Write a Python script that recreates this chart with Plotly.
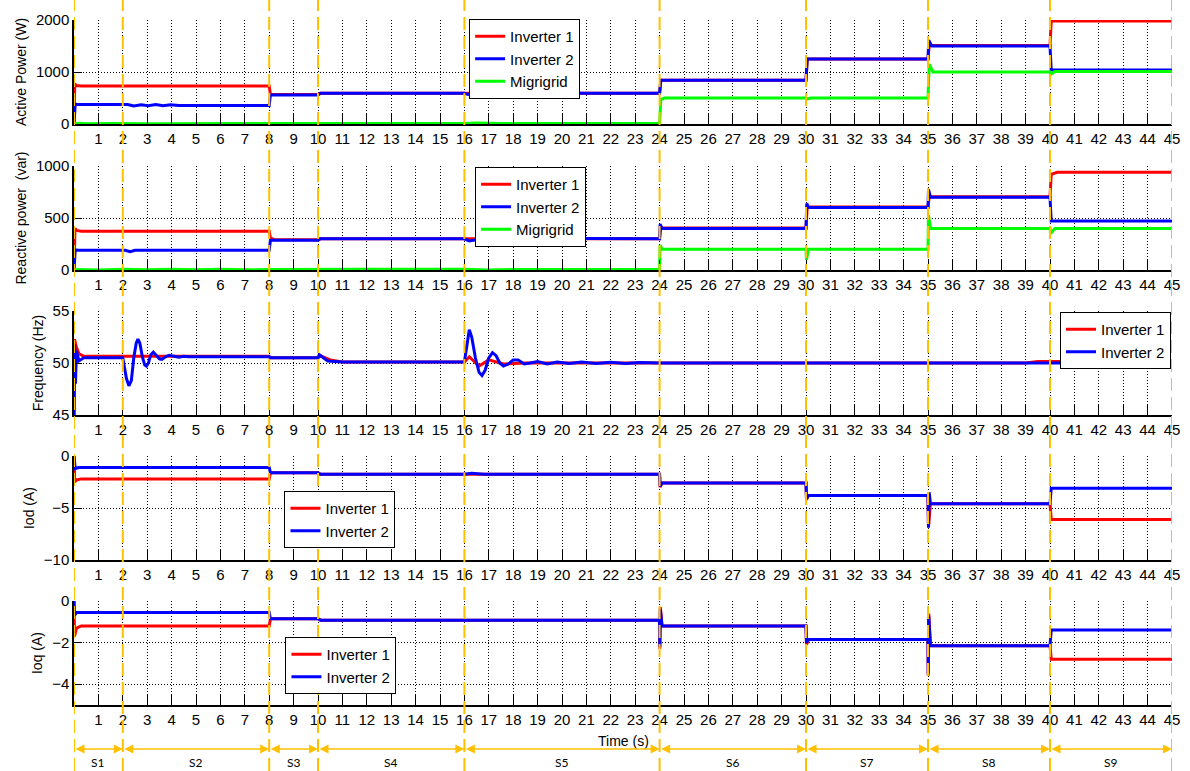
import plotly.graph_objects as go

# ---------------- data ----------------
seg_bounds = [0, 2, 8, 10, 16, 24, 30, 35, 40, 45]
seg_labels = ["S1", "S2", "S3", "S4", "S5", "S6", "S7", "S8", "S9"]
x_ticks = list(range(1, 46))

# Active power (W)
t_p1 = [0, 0.03, 0.08, 0.3, 8.0, 8.05, 10.0, 10.1, 24.0, 24.05, 30.0, 30.05, 35.0, 35.05, 40.0, 40.05, 45]
p_inv1 = [0, 780, 740, 730, 730, 565, 565, 590, 590, 840, 840, 1250, 1250, 1510, 1510, 1980, 1980]
t_p2 = [0, 0.05, 0.15, 2.2, 2.45, 2.75, 3.05, 3.35, 3.65, 3.95, 4.3, 8.0, 8.05, 10.0, 10.1, 16.0, 16.15,
        16.5, 16.9, 17.3, 24.0, 24.05, 30.0, 30.05, 35.0, 35.03, 35.15, 40.0, 40.05, 45]
p_inv2 = [0, 380, 375, 375, 345, 370, 350, 375, 350, 370, 355, 355, 560, 560, 590, 590, 570,
          600, 610, 590, 590, 840, 840, 1250, 1250, 1610, 1500, 1500, 1040, 1040]
t_pm = [0, 0.2, 0.5, 1.5, 3, 4.5, 6, 7.5, 8, 8.05, 16, 16.5, 17.5, 24, 24.05, 24.2, 30, 30.05, 30.2,
        35, 35.05, 35.2, 40, 40.05, 40.2, 45]
p_mg = [0, 15, 5, 12, 5, 12, 5, 12, 8, 10, 10, 18, 8, 8, 470, 500, 500, 480, 500,
        500, 1150, 1000, 1000, 960, 1010, 1010]

# Reactive power (var)
t_q1 = [0, 0.04, 0.1, 0.3, 8.0, 8.05, 8.2, 10.0, 10.1, 24.0, 24.05, 30.0, 30.05, 35.0, 35.05, 40.0, 40.05, 40.3, 45]
q_inv1 = [0, 400, 380, 372, 372, 310, 290, 290, 300, 300, 405, 405, 605, 605, 705, 705, 920, 940, 940]
t_q2 = [0, 0.05, 0.15, 2.1, 2.3, 2.5, 8.0, 8.05, 10.0, 10.1, 16.0, 16.2, 16.6, 17.2, 24.0, 24.02, 24.1,
        30.0, 30.03, 30.1, 35.0, 35.02, 35.1, 40.0, 40.05, 45]
q_inv2 = [0, 195, 190, 190, 175, 190, 190, 285, 285, 300, 300, 280, 295, 305, 300, 440, 400,
          400, 640, 600, 600, 775, 700, 700, 470, 470]
t_qm = [0, 0.2, 1, 2, 3, 4, 5, 6, 7, 8, 8.05, 12, 16, 17, 18, 24, 24.02, 24.1, 30, 30.02, 30.1,
        35, 35.02, 35.1, 40, 40.03, 40.2, 45]
q_mg = [0, 5, 0, 8, 2, 8, 2, 8, 2, 5, 5, 8, 8, 0, 5, 5, 240, 200, 200, 100, 200,
        200, 530, 400, 400, 350, 400, 400]

# Frequency (Hz)
t_f1 = [0, 0.02, 0.1, 0.2, 0.4, 2.0, 4.5, 8.0, 8.05, 10.0, 10.1, 10.5, 11.0,
        16.0, 16.2, 16.6, 17.0, 17.6, 18.5, 39.0, 39.5, 45]
f_inv1 = [50, 52.3, 51.5, 50.9, 50.65, 50.65, 50.65, 50.65, 50.5, 50.5, 50.7, 50.3, 50.1,
          50.1, 50.6, 49.7, 50.3, 49.9, 50.0, 50.0, 50.15, 50.15]
t_f2 = [0, 0.01, 0.03, 0.06, 0.1, 0.2, 0.4, 2.0, 2.05, 2.15, 2.25, 2.35, 2.45, 2.55, 2.62, 2.7, 2.8,
        2.9, 2.97, 3.05, 3.15, 3.25, 3.35, 3.5, 3.6, 3.75, 3.9, 4.05, 4.3, 4.5, 4.7, 8.0, 8.05,
        10.0, 10.05, 10.4, 11.0, 16.0, 16.08, 16.2, 16.3, 16.45, 16.6, 16.72, 16.85, 17.0, 17.15,
        17.3, 17.45, 17.6, 17.8, 18.0, 18.2, 18.45, 18.7, 19.0, 19.4, 19.8, 20.3, 20.8, 21.4,
        22.0, 22.6, 23.2, 24, 45]
f_inv2 = [50, 45, 51.8, 48, 51.2, 50.2, 50.5, 50.5, 49.8, 48.5, 47.8, 48.3, 50.5, 51.9, 52.3, 51.9, 50.6,
          49.8, 49.7, 50.0, 50.8, 51.05, 50.8, 50.4, 50.35, 50.6, 50.75, 50.7, 50.55, 50.65, 50.6, 50.6, 50.5,
          50.5, 50.8, 50.2, 50.1, 50.1, 51.5, 53.2, 52.5, 50.5, 49.1, 48.8, 49.3, 50.5, 51.0,
          50.7, 50.0, 49.7, 49.9, 50.3, 50.3, 49.9, 50.0, 50.15, 49.9, 50.1, 49.95, 50.1, 49.95,
          50.08, 49.95, 50.05, 50.0, 50.0]

# Id (A)
t_d1 = [0, 0.03, 0.1, 0.3, 8.0, 8.05, 10.0, 10.1, 24.0, 24.02, 24.1, 30.0, 30.02, 30.1, 35.0, 35.02, 35.1, 40.0, 40.05, 45]
id_inv1 = [0, -2.5, -2.3, -2.2, -2.2, -1.6, -1.6, -1.75, -1.75, -3.0, -2.6, -2.6, -4.2, -3.8, -3.8, -6.8, -4.6, -4.6, -6.1, -6.1]
t_d2 = [0, 0.05, 0.2, 8.0, 8.05, 10.0, 10.1, 16.0, 16.3, 16.8, 24.0, 24.02, 24.1, 30.0, 30.02, 30.1,
        35.0, 35.02, 35.05, 35.1, 40.0, 40.05, 45]
id_inv2 = [0, -1.2, -1.1, -1.1, -1.6, -1.6, -1.75, -1.75, -1.65, -1.75, -1.75, -2.9, -2.6, -2.6, -4.1, -3.8,
           -3.8, -6.9, -3.5, -4.6, -4.6, -3.1, -3.1]

# Iq (A)
t_iq1 = [0, 0.02, 0.1, 0.3, 8.0, 8.05, 10.0, 10.1, 24.0, 24.01, 24.03, 24.1, 30.0, 30.02, 30.1,
         35.0, 35.01, 35.03, 35.1, 40.0, 40.05, 45]
iq_inv1 = [0, -1.7, -1.3, -1.2, -1.2, -0.85, -0.85, -0.92, -0.92, -2.3, -0.3, -1.2, -1.2, -2.1, -1.85,
           -1.85, -3.6, -0.6, -2.15, -2.15, -2.8, -2.8]
t_iq2 = [0, 0.02, 0.1, 8.0, 8.05, 10.0, 10.1, 24.0, 24.01, 24.03, 24.1, 30.0, 30.02, 30.1,
         35.0, 35.01, 35.03, 35.1, 40.0, 40.05, 45]
iq_inv2 = [0, -0.7, -0.55, -0.55, -0.85, -0.85, -0.92, -0.92, -2.2, -0.4, -1.2, -1.2, -2.0, -1.85,
           -1.85, -3.5, -0.7, -2.15, -2.15, -1.4, -1.4]

# ---------------- figure ----------------
RED, BLUE, GREEN = "#FF0000", "#0000FF", "#00FF00"
ORANGE = "#FFC000"
FONT = "Liberation Sans, Arial, sans-serif"

W, H = 1190, 771
ML, MR, MT, MB = 74, 10, 20, 66
PH = H - MT - MB  # plot area height
PW = W - ML - MR

def ydom(top_px, bot_px):
    return [(H - MB - bot_px) / PH, (H - MB - top_px) / PH]

panel_px = [(20, 124), (166, 270), (311, 415), (456, 560), (601, 705)]
y_titles = ["Active Power (W)", "Reactive power  (var)", "Frequency (Hz)", "Iod (A)", "Ioq (A)"]
y_ranges = [[0, 2000], [0, 1000], [45, 55], [-10, 0], [-5, 0]]
y_tickvals = [[0, 1000, 2000], [0, 500, 1000], [45, 50, 55], [-10, -5, 0], [-4, -2, 0]]

fig = go.Figure()

series = [
    [(t_p1, p_inv1, "Inverter 1", RED), (t_p2, p_inv2, "Inverter 2", BLUE), (t_pm, p_mg, "Migrigrid", GREEN)],
    [(t_q1, q_inv1, "Inverter 1", RED), (t_q2, q_inv2, "Inverter 2", BLUE), (t_qm, q_mg, "Migrigrid", GREEN)],
    [(t_f1, f_inv1, "Inverter 1", RED), (t_f2, f_inv2, "Inverter 2", BLUE)],
    [(t_d1, id_inv1, "Inverter 1", RED), (t_d2, id_inv2, "Inverter 2", BLUE)],
    [(t_iq1, iq_inv1, "Inverter 1", RED), (t_iq2, iq_inv2, "Inverter 2", BLUE)],
]

# (pixel x, anchor, pixel top)
legend_pos = [(472, "left", 19), (478, "left", 167), (1179, "right", 312), (286, "left", 491), (287, "left", 637)]

for i, traces in enumerate(series):
    n = i + 1
    xa = "x" if n == 1 else f"x{n}"
    ya = "y" if n == 1 else f"y{n}"
    lg = "legend" if n == 1 else f"legend{n}"
    for (t, v, name, col) in traces:
        fig.add_trace(go.Scatter(x=t, y=v, mode="lines", name=name,
                                 line=dict(color=col, width=3),
                                 xaxis=xa, yaxis=ya, legend=lg))
    xkey = "xaxis" if n == 1 else f"xaxis{n}"
    ykey = "yaxis" if n == 1 else f"yaxis{n}"
    fig.update_layout({
        xkey: dict(domain=[0, 1], anchor=ya, range=[0, 45],
                   tickmode="array", tickvals=x_ticks, ticktext=[str(v) for v in x_ticks],
                   ticks="inside", ticklen=10, tickwidth=1, tickcolor="black",
                   showgrid=True, gridcolor="black", gridwidth=1, griddash="1px,2px",
                   showline=True, linecolor="black", linewidth=1.5, zeroline=False,
                   tickfont=dict(family=FONT, size=15, color="black")),
        ykey: dict(domain=ydom(*panel_px[i]), anchor=xa, range=y_ranges[i],
                   tickmode="array", tickvals=y_tickvals[i],
                   ticks="inside", ticklen=8, tickwidth=1, tickcolor="black",
                   showgrid=True, gridcolor="black", gridwidth=1, griddash="1px,2px",
                   showline=True, linecolor="black", linewidth=1.5, zeroline=False,
                   tickfont=dict(family=FONT, size=15, color="black"),
                   title=dict(text=y_titles[i], standoff=6,
                              font=dict(family=FONT, size=14, color="black"))),
    })
    lx, anc, ly = legend_pos[i]
    fig.update_layout({
        lg: dict(x=(lx - ML) / PW, y=(H - MB - ly) / PH,
                 xanchor=anc, yanchor="top", xref="paper", yref="paper",
                 bgcolor="white", bordercolor="black", borderwidth=1,
                 font=dict(family=FONT, size=15, color="black"),
                 tracegroupgap=0, itemwidth=30)
    })

# vertical dashed segment boundaries across the whole figure
shapes = []
for b in seg_bounds:
    shapes.append(dict(type="line", xref="x5", yref="paper", x0=b, x1=b,
                       y0=-(MB) / PH, y1=1 + MT / PH,
                       line=dict(color=ORANGE, width=2, dash="13px,6px"), layer="above"))

annotations = [dict(text="Time (s)", xref="paper", yref="paper", x=0.5, y=(H - MB - 741) / PH,
                    yanchor="middle", showarrow=False, font=dict(family=FONT, size=14, color="black"))]
arrow_y = (H - MB - 749) / PH
label_y = (H - MB - 762) / PH
for a, b, lab in zip(seg_bounds[:-1], seg_bounds[1:], seg_labels):
    annotations.append(dict(text="", xref="x5", yref="paper", x=b, y=arrow_y,
                            axref="x5", ayref="pixel", ax=a, ay=0,
                            showarrow=True, arrowhead=2, arrowside="end+start",
                            arrowsize=1.2, arrowwidth=1.5, arrowcolor=ORANGE))
    annotations.append(dict(text=lab, xref="x5", yref="paper", x=(a + b) / 2, y=label_y,
                            yanchor="middle", showarrow=False,
                            font=dict(family="Lato, sans-serif", size=12, color="black")))

fig.update_layout(width=W, height=H, margin=dict(l=ML, r=MR, t=MT, b=MB),
                  paper_bgcolor="white", plot_bgcolor="white",
                  shapes=shapes, annotations=annotations, showlegend=True)

fig.write_html("out.html")
